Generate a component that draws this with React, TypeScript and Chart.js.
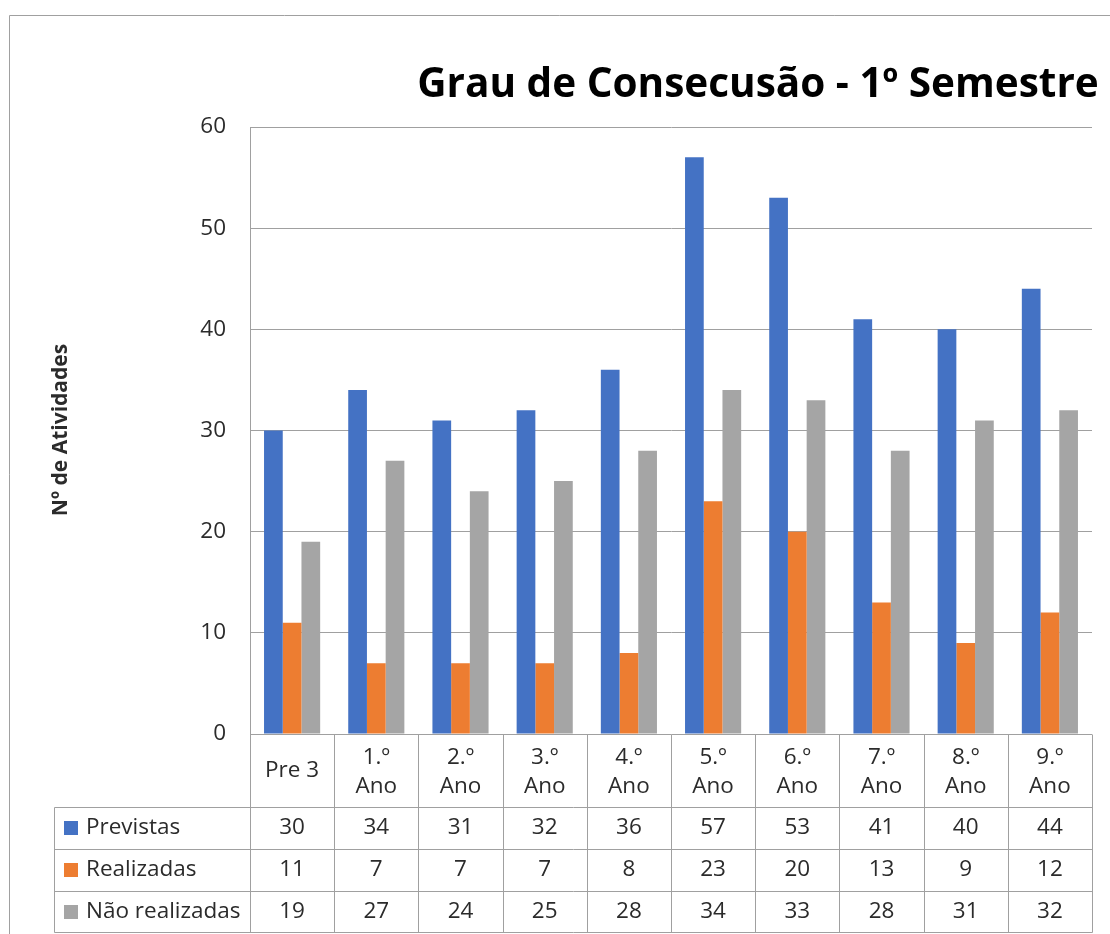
import React, { useEffect, useRef } from "react";
import { Chart, registerables } from "chart.js";

Chart.register(...registerables);

const chartTitle = "Grau de Consecusão - 1º Semestre";
const yAxisTitle = "Nº de Atividades";
const categoryLines: string[][] = [
  ["Pre 3"],
  ["1.º", "Ano"],
  ["2.º", "Ano"],
  ["3.º", "Ano"],
  ["4.º", "Ano"],
  ["5.º", "Ano"],
  ["6.º", "Ano"],
  ["7.º", "Ano"],
  ["8.º", "Ano"],
  ["9.º", "Ano"],
];
const categories = categoryLines.map((l) => l.join(" "));
const previstas = [30, 34, 31, 32, 36, 57, 53, 41, 40, 44];
const realizadas = [11, 7, 7, 7, 8, 23, 20, 13, 9, 12];
const naoRealizadas = [19, 27, 24, 25, 28, 34, 33, 28, 31, 32];
const seriesNames = ["Previstas", "Realizadas", "Não realizadas"];
const seriesColors = ["#4472C4", "#ED7D31", "#A5A5A5"];
const seriesValues = [previstas, realizadas, naoRealizadas];
const yMin = 0;
const yMax = 60;
const yStep = 10;

const W = 1110;
const H = 934;
const FONT = "'Open Sans', sans-serif";
const LINE = "#a0a0a0";
const TEXT = "#2b2b2b";

const decorPlugin = {
  id: "decor",
  beforeDraw(chart: any) {
    const ctx = chart.ctx as CanvasRenderingContext2D;
    ctx.save();
    ctx.fillStyle = "#ffffff";
    ctx.fillRect(0, 0, W, H);
    ctx.strokeStyle = LINE;
    ctx.lineWidth = 1;
    ctx.beginPath();
    ctx.moveTo(9.5, H);
    ctx.lineTo(9.5, 15.5);
    ctx.lineTo(W, 15.5);
    ctx.stroke();
    // title
    ctx.fillStyle = "#000000";
    ctx.font = `bold 40.5px ${FONT}`;
    ctx.textAlign = "center";
    ctx.textBaseline = "middle";
    ctx.fillText(chartTitle, 758, 85);
    // y axis title
    ctx.translate(61, 430);
    ctx.rotate(-Math.PI / 2);
    ctx.font = `bold 21px ${FONT}`;
    ctx.fillStyle = TEXT;
    ctx.fillText(yAxisTitle, 0, 0);
    ctx.restore();
  },
  afterDraw(chart: any) {
    const ctx = chart.ctx as CanvasRenderingContext2D;
    const { left, right, bottom } = chart.chartArea;
    const n = categories.length;
    const cw = (right - left) / n;
    const tableLeft = 54;
    const rowEdges = [bottom, bottom + 73, bottom + 115, bottom + 157, bottom + 198];
    const px = (v: number) => Math.round(v) + 0.5;
    ctx.save();
    ctx.strokeStyle = LINE;
    ctx.lineWidth = 1;
    ctx.beginPath();
    for (let i = 0; i <= n; i++) {
      const x = px(left + i * cw);
      ctx.moveTo(x, px(bottom));
      ctx.lineTo(x, px(rowEdges[4]));
    }
    ctx.moveTo(px(tableLeft), px(rowEdges[1]));
    ctx.lineTo(px(tableLeft), px(rowEdges[4]));
    for (let r = 1; r <= 4; r++) {
      ctx.moveTo(px(tableLeft), px(rowEdges[r]));
      ctx.lineTo(px(right), px(rowEdges[r]));
    }
    ctx.stroke();

    ctx.fillStyle = TEXT;
    ctx.font = `22.5px ${FONT}`;
    ctx.textAlign = "center";
    ctx.textBaseline = "middle";
    const xs = chart.scales.x;
    for (let i = 0; i < n; i++) {
      const cx = xs.getPixelForValue(i);
      const lines = categoryLines[i];
      const mid = (rowEdges[0] + rowEdges[1]) / 2;
      const lh = 29;
      lines.forEach((t, j) => {
        const y = mid + (j - (lines.length - 1) / 2) * lh + (lines.length > 1 ? 2 : 0);
        ctx.fillText(t, cx, y);
      });
    }
    for (let s = 0; s < seriesNames.length; s++) {
      const y = (rowEdges[s + 1] + rowEdges[s + 2]) / 2;
      ctx.fillStyle = seriesColors[s];
      ctx.fillRect(64, Math.round(y - 7), 14, 14);
      ctx.fillStyle = TEXT;
      ctx.textAlign = "left";
      ctx.fillText(seriesNames[s], 86, y);
      ctx.textAlign = "center";
      for (let i = 0; i < n; i++) {
        ctx.fillText(String(seriesValues[s][i]), xs.getPixelForValue(i), y);
      }
    }
    ctx.restore();
  },
};

export default function App() {
  const ref = useRef<HTMLCanvasElement>(null);
  useEffect(() => {
    if (!ref.current) return;
    const chart = new Chart(ref.current, {
      type: "bar",
      data: {
        labels: categories,
        datasets: seriesNames.map((name, s) => ({
          label: name,
          data: seriesValues[s],
          backgroundColor: seriesColors[s],
          borderWidth: 0,
          barPercentage: 1,
          categoryPercentage: 2 / 3,
        })),
      },
      options: {
        animation: false,
        responsive: false,
        devicePixelRatio: 1,
        layout: { padding: { left: 0, top: 127, right: 18, bottom: 200 } },
        plugins: {
          legend: { display: false },
          title: { display: false },
          tooltip: { enabled: false },
        },
        scales: {
          x: { display: false },
          y: {
            min: yMin,
            max: yMax,
            ticks: {
              stepSize: yStep,
              padding: 24,
              color: TEXT,
              font: { family: FONT, size: 22.5 },
            },
            grid: { color: LINE, lineWidth: 1, drawTicks: false },
            border: { display: true, color: LINE, width: 1 },
            afterFit(scale: any) {
              scale.width = 250;
            },
          },
        },
      },
      plugins: [decorPlugin],
    });
    return () => chart.destroy();
  }, []);
  return (
    <div style={{ position: "absolute", left: 0, top: 0, width: W, height: H }}>
      <canvas ref={ref} width={W} height={H} style={{ width: W, height: H, display: "block" }} />
    </div>
  );
}
